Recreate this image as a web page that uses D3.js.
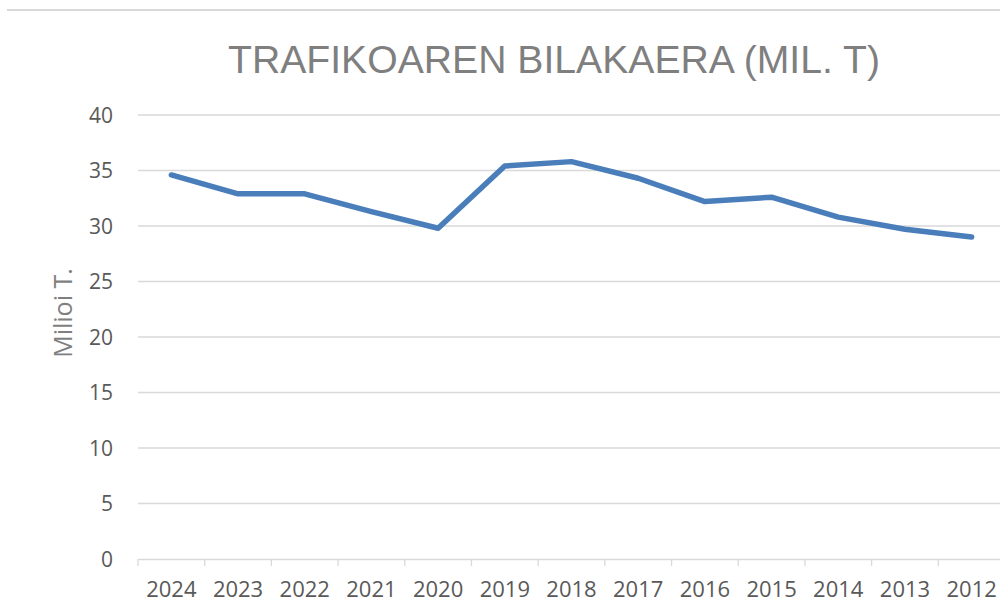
<!DOCTYPE html>
<html>
<head>
<meta charset="utf-8">
<script src="https://cdn.jsdelivr.net/npm/d3@7"></script>
<style>
  body { margin: 0; background: #fff; }
  text { font-family: "Open Sans", "Liberation Sans", Arial, sans-serif; }
</style>
</head>
<body>
<svg id="chart" width="1000" height="601"></svg>
<script>
// data
const years = ["2024", "2023", "2022", "2021", "2020", "2019", "2018", "2017", "2016", "2015", "2014", "2013", "2012"]
const traffic = [34.6, 32.9, 32.9, 31.3, 29.8, 35.4, 35.8, 34.3, 32.2, 32.6, 30.8, 29.7, 29.0]
const yTicks = [0, 5, 10, 15, 20, 25, 30, 35, 40]

const svg = d3.select("#chart")

// frame line at the top
svg.append("line")
    .attr("x1", 7).attr("x2", 1000)
    .attr("y1", 10).attr("y2", 10)
    .attr("stroke", "#d9d9d9")
    .attr("stroke-width", 2)

const x = d3.scaleBand().domain(years).range([138, 1005])
const y = d3.scaleLinear().domain([0, 40]).range([559, 115])

// gridlines
svg.append("g")
    .selectAll("line")
    .data(yTicks.filter(d => d > 0))
    .join("line")
    .attr("x1", 138).attr("x2", 1000)
    .attr("y1", d => y(d)).attr("y2", d => y(d))
    .attr("stroke", "#d9d9d9")
    .attr("stroke-width", 1.3)

// y tick labels
svg.append("g")
    .selectAll("text")
    .data(yTicks)
    .join("text")
    .attr("x", 113)
    .attr("y", d => y(d) + 7.5)
    .attr("text-anchor", "end")
    .attr("font-size", 21)
    .attr("fill", "#595959")
    .text(d => d)

// x axis
const xAxis = svg.append("g")
    .attr("transform", `translate(0,${y(0)})`)
    .call(d3.axisBottom(x).tickSize(0).tickPadding(0))
xAxis.select(".domain").attr("stroke", "#d9d9d9").attr("stroke-width", 1.3)
xAxis.selectAll("text")
    .attr("dy", null)
    .attr("y", 38)
    .attr("font-size", 22)
    .attr("fill", "#595959")
    .style("font-family", "\"Open Sans\", sans-serif")

// tick marks on the band edges
svg.append("g")
    .selectAll("line")
    .data(years)
    .join("line")
    .attr("x1", d => x(d)).attr("x2", d => x(d))
    .attr("y1", y(0)).attr("y2", y(0) + 7)
    .attr("stroke", "#d9d9d9")
    .attr("stroke-width", 1.3)

// the line
const line = d3.line()
    .x((d, i) => x(years[i]) + x.bandwidth() / 2)
    .y(d => y(d))

svg.append("path")
    .datum(traffic)
    .attr("d", line)
    .attr("fill", "none")
    .attr("stroke", "#4a7ebb")
    .attr("stroke-width", 5.5)
    .attr("stroke-linejoin", "round")
    .attr("stroke-linecap", "round")

// title
svg.append("text")
    .attr("x", 554)
    .attr("y", 73)
    .attr("text-anchor", "middle")
    .attr("font-size", 39)
    .attr("fill", "#7f7f7f")
    .attr("textLength", 652)
    .attr("lengthAdjust", "spacingAndGlyphs")
    .style("font-family", "\"Liberation Sans\", Arial, sans-serif")
    .text("TRAFIKOAREN BILAKAERA (MIL. T)")

// y axis title
svg.append("text")
    .attr("transform", "translate(72,313) rotate(-90)")
    .attr("text-anchor", "middle")
    .attr("font-size", 25)
    .attr("fill", "#7f7f7f")
    .text("Milioi T.")
</script>
</body>
</html>
